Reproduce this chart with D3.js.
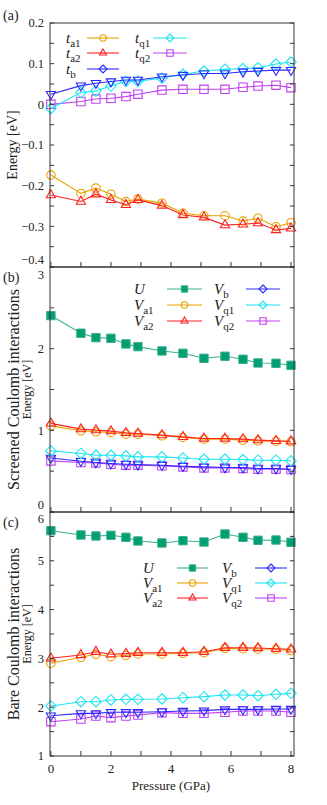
<!DOCTYPE html>
<html>
<head>
<meta charset="utf-8">
<script src="https://cdn.jsdelivr.net/npm/d3@7"></script>
<style>
body { margin: 0; background: #fff; }
</style>
</head>
<body>
<div id="chart"></div>
<script>
// pressure points (GPa), shared by all three panels
var pressure = [0, 1, 1.5, 2, 2.5, 2.9, 3.7, 4.4, 5.1, 5.8, 6.4, 6.9, 7.5, 8.0];

// (a) hoppings [eV]
var t_a1 = [-0.174, -0.219, -0.206, -0.221, -0.239, -0.233, -0.243, -0.268, -0.274, -0.274, -0.287, -0.280, -0.301, -0.291];
var t_a2 = [-0.223, -0.239, -0.221, -0.235, -0.247, -0.235, -0.249, -0.272, -0.278, -0.297, -0.295, -0.292, -0.309, -0.305];
var t_b  = [0.025, 0.046, 0.052, 0.056, 0.060, 0.060, 0.068, 0.072, 0.076, 0.076, 0.080, 0.082, 0.084, 0.084];
var t_q1 = [-0.010, 0.029, 0.033, 0.045, 0.056, 0.057, 0.064, 0.074, 0.082, 0.086, 0.088, 0.090, 0.099, 0.104];
var t_q2 = [0.000, 0.007, 0.013, 0.015, 0.019, 0.025, 0.035, 0.037, 0.037, 0.037, 0.042, 0.045, 0.047, 0.041];

// (b) screened interactions [eV]
var sU    = [2.405, 2.189, 2.135, 2.127, 2.058, 2.025, 1.972, 1.943, 1.882, 1.907, 1.870, 1.825, 1.821, 1.796];
var sV_a1 = [1.055, 0.994, 0.982, 0.974, 0.953, 0.953, 0.933, 0.913, 0.892, 0.892, 0.880, 0.871, 0.867, 0.859];
var sV_a2 = [1.085, 1.015, 1.003, 0.990, 0.969, 0.962, 0.941, 0.920, 0.900, 0.900, 0.892, 0.880, 0.871, 0.867];
var sV_b  = [0.662, 0.622, 0.606, 0.594, 0.585, 0.581, 0.573, 0.561, 0.552, 0.544, 0.544, 0.533, 0.533, 0.524];
var sV_q1 = [0.748, 0.717, 0.695, 0.695, 0.687, 0.675, 0.675, 0.662, 0.646, 0.646, 0.642, 0.634, 0.634, 0.626];
var sV_q2 = [0.626, 0.606, 0.601, 0.585, 0.573, 0.573, 0.565, 0.552, 0.540, 0.540, 0.533, 0.524, 0.524, 0.520];

// (c) bare interactions [eV]
var bU    = [5.617, 5.529, 5.508, 5.522, 5.481, 5.406, 5.365, 5.412, 5.385, 5.549, 5.481, 5.420, 5.426, 5.379];
var bV_a1 = [2.900, 3.023, 3.084, 3.035, 3.063, 3.090, 3.090, 3.104, 3.117, 3.206, 3.199, 3.193, 3.186, 3.160];
var bV_a2 = [3.002, 3.070, 3.137, 3.084, 3.097, 3.117, 3.117, 3.117, 3.137, 3.219, 3.219, 3.213, 3.199, 3.186];
var bV_b  = [1.826, 1.874, 1.874, 1.895, 1.895, 1.895, 1.908, 1.922, 1.929, 1.956, 1.956, 1.956, 1.963, 1.963];
var bV_q1 = [2.025, 2.113, 2.113, 2.148, 2.162, 2.162, 2.168, 2.195, 2.216, 2.250, 2.250, 2.236, 2.264, 2.284];
var bV_q2 = [1.703, 1.758, 1.820, 1.786, 1.820, 1.840, 1.888, 1.874, 1.874, 1.895, 1.922, 1.922, 1.922, 1.895];

var xTicks = [0, 1, 2, 3, 4, 5, 6, 7, 8];
var xLabels = [0, 2, 4, 6, 8];

var colors = {
    a1: "#e8a000", a2: "#ff2020", b: "#2a2aff",
    q1: "#1ae6f0", q2: "#c040f0", U: "#009e73", Uline: "#3cb08c"
};

var width = 327, height = 805;
var left = 50, right = 294;
var serif = "'Liberation Serif', 'DejaVu Serif', serif";

var svg = d3.select("#chart").append("svg")
    .attr("width", width)
    .attr("height", height)
    .attr("font-family", serif)
    .style("font-family", serif);

var x = d3.scaleLinear().domain([-0.03, 8.1]).range([left, right]);

// marker shapes, centered on 0,0
var shape = function(kind, s){
    if (kind == "circle") return d3.symbol(d3.symbolCircle, Math.PI * s * s)();
    if (kind == "square" || kind == "fsquare") return "M" + (-s) + "," + (-s) + "h" + 2*s + "v" + 2*s + "h" + (-2*s) + "Z";
    if (kind == "diamond") { var r = s * 1.25; return "M0," + (-r) + "L" + r + ",0L0," + r + "L" + (-r) + ",0Z"; }
    var h = s * 1.9, w = s * 1.1;
    if (kind == "tri") return "M0," + (-h*2/3) + "L" + w + "," + (h/3) + "L" + (-w) + "," + (h/3) + "Z";
    if (kind == "dtri") return "M0," + (h*2/3) + "L" + w + "," + (-h/3) + "L" + (-w) + "," + (-h/3) + "Z";
}

var drawMarker = function(g, kind, color, size){
    var filled = kind == "fsquare";
    return g.append("path")
        .attr("d", shape(kind, size))
        .attr("fill", filled ? colors.U : "none")
        .attr("stroke", filled ? colors.Uline : color)
        .attr("stroke-width", filled ? 1 : 1.1);
}

var panel = function(opt){
    var y = d3.scaleLinear().domain(opt.domain).range([opt.bottom, opt.top]);
    var g = svg.append("g");

    // series
    opt.series.forEach(function(s){
        var pts = pressure.map((p, i) => [x(p), y(s.values[i])]);
        g.append("path")
            .attr("d", d3.line()(pts))
            .attr("fill", "none")
            .attr("stroke", s.line || s.color)
            .attr("stroke-width", 1.1);
        pts.forEach(function(p){
            drawMarker(g, s.marker, s.color, 4.2)
                .attr("transform", "translate(" + p[0] + "," + p[1] + ")");
        });
    });

    // frame
    g.append("rect")
        .attr("x", left).attr("y", opt.top)
        .attr("width", right - left).attr("height", opt.bottom - opt.top)
        .attr("fill", "none").attr("stroke", "#333").attr("stroke-width", 1);

    // y ticks, inward on both sides
    var yt = d3.range(opt.domain[0], opt.domain[1] + opt.minor / 2, opt.minor);
    yt.forEach(function(v, i){
        var yy = y(v);
        var major = Math.abs(Math.round(v / opt.major) * opt.major - v) < 1e-6;
        var len = 4;
        g.append("line").attr("x1", left).attr("x2", left + len)
            .attr("y1", yy).attr("y2", yy).attr("stroke", "#333");
        g.append("line").attr("x1", right).attr("x2", right - len)
            .attr("y1", yy).attr("y2", yy).attr("stroke", "#333");
        if (major) {
            // labels on the shared edges are nudged apart
            var shift = 0;
            if (i == 0 && opt.lowShift) shift = opt.lowShift;
            if (i == yt.length - 1 && opt.topShift) shift = opt.topShift;
            g.append("text")
                .attr("x", left - 6).attr("y", yy + shift)
                .attr("dy", "0.35em")
                .attr("text-anchor", "end")
                .attr("font-size", 12.5)
                .attr("fill", "#222")
                .text(opt.fmt(v));
        }
    });

    // x ticks at bottom
    xTicks.forEach(function(v){
        g.append("line").attr("x1", x(v)).attr("x2", x(v))
            .attr("y1", opt.bottom).attr("y2", opt.bottom - 5)
            .attr("stroke", "#333");
    });

    // panel tag
    g.append("text").attr("x", 3).attr("y", opt.tagY)
        .attr("font-size", 14).attr("fill", "#222").text(opt.tag);

    // y titles
    var cy = (opt.top + opt.bottom) / 2;
    opt.titles.forEach(function(t){
        g.append("text")
            .attr("transform", "translate(" + t.x + "," + cy + ") rotate(-90)")
            .attr("text-anchor", "middle")
            .attr("font-size", t.size)
            .attr("fill", "#222")
            .text(t.text);
    });

    // legend
    opt.legend.forEach(function(l){
        var row = g.append("g").attr("transform", "translate(0," + l.y + ")");
        var lab = row.append("text").attr("x", l.tx).attr("y", 0).attr("dy", "0.3em")
            .attr("font-size", 15).attr("fill", "#222");
        lab.append("tspan").attr("font-style", "italic").text(l.sym);
        if (l.sub) lab.append("tspan").attr("font-size", 11).attr("dy", 4).text(l.sub);
        row.append("line").attr("x1", l.x1).attr("x2", l.x2)
            .attr("stroke", l.line || l.color).attr("stroke-width", 1.1);
        drawMarker(row, l.marker, l.color, 3.2)
            .attr("transform", "translate(" + (l.x1 + l.x2) / 2 + ",0)");
    });

    return y;
}

var f1 = d3.format(".1f");

panel({
    top: 23, bottom: 267, domain: [-0.4, 0.2], major: 0.1, minor: 0.05,
    fmt: v => Math.abs(v) < 1e-9 ? "0" : f1(v),
    tag: "(a)", tagY: 20, lowShift: -7,
    titles: [{ x: 17, size: 14, text: "Energy [eV]" }],
    series: [
        { values: t_a1, color: colors.a1, marker: "circle" },
        { values: t_a2, color: colors.a2, marker: "tri" },
        { values: t_q2, color: colors.q2, marker: "square" },
        { values: t_q1, color: colors.q1, marker: "diamond" },
        { values: t_b,  color: colors.b,  marker: "dtri" }
    ],
    legend: [
        { y: 38, tx: 66, sym: "t", sub: "a1", x1: 87, x2: 119, color: colors.a1, marker: "circle" },
        { y: 53, tx: 66, sym: "t", sub: "a2", x1: 87, x2: 119, color: colors.a2, marker: "tri" },
        { y: 69, tx: 66, sym: "t", sub: "b",  x1: 87, x2: 119, color: colors.b,  marker: "diamond" },
        { y: 38, tx: 135, sym: "t", sub: "q1", x1: 153, x2: 187, color: colors.q1, marker: "diamond" },
        { y: 53, tx: 135, sym: "t", sub: "q2", x1: 153, x2: 187, color: colors.q2, marker: "square" }
    ]
});

var legendV = function(ys, c1, c2){
    return [
        { y: ys[0], tx: c1.tx, sym: "U", sub: "", x1: c1.x1, x2: c1.x2, color: colors.U, line: colors.Uline, marker: "fsquare" },
        { y: ys[1], tx: c1.tx, sym: "V", sub: "a1", x1: c1.x1, x2: c1.x2, color: colors.a1, marker: "circle" },
        { y: ys[2], tx: c1.tx, sym: "V", sub: "a2", x1: c1.x1, x2: c1.x2, color: colors.a2, marker: "tri" },
        { y: ys[0], tx: c2.tx, sym: "V", sub: "b",  x1: c2.x1, x2: c2.x2, color: colors.b,  marker: "diamond" },
        { y: ys[1], tx: c2.tx, sym: "V", sub: "q1", x1: c2.x1, x2: c2.x2, color: colors.q1, marker: "diamond" },
        { y: ys[2], tx: c2.tx, sym: "V", sub: "q2", x1: c2.x1, x2: c2.x2, color: colors.q2, marker: "square" }
    ];
}

panel({
    top: 267, bottom: 512, domain: [0, 3], major: 1, minor: 0.5,
    fmt: d3.format("d"),
    tag: "(b)", tagY: 282, lowShift: -7, topShift: 8,
    titles: [{ x: 19, size: 16, text: "Screened Coulomb interactions" },
             { x: 31, size: 12, text: "Energy [eV]" }],
    series: [
        { values: sV_q2, color: colors.q2, marker: "square" },
        { values: sV_b,  color: colors.b,  marker: "dtri" },
        { values: sV_q1, color: colors.q1, marker: "diamond" },
        { values: sV_a1, color: colors.a1, marker: "circle" },
        { values: sV_a2, color: colors.a2, marker: "tri" },
        { values: sU, color: colors.U, line: colors.Uline, marker: "fsquare" }
    ],
    legend: legendV([289, 305, 321], { tx: 134, x1: 167, x2: 202 }, { tx: 214, x1: 246, x2: 280 })
});

panel({
    top: 512, bottom: 756, domain: [1, 6], major: 1, minor: 0.5,
    fmt: d3.format("d"),
    tag: "(c)", tagY: 527, topShift: 7,
    titles: [{ x: 19, size: 16, text: "Bare Coulomb interactions" },
             { x: 31, size: 12, text: "Energy [eV]" }],
    series: [
        { values: bV_q2, color: colors.q2, marker: "square" },
        { values: bV_b,  color: colors.b,  marker: "dtri" },
        { values: bV_q1, color: colors.q1, marker: "diamond" },
        { values: bV_a1, color: colors.a1, marker: "circle" },
        { values: bV_a2, color: colors.a2, marker: "tri" },
        { values: bU, color: colors.U, line: colors.Uline, marker: "fsquare" }
    ],
    legend: legendV([568, 583, 598], { tx: 143, x1: 177, x2: 208 }, { tx: 222, x1: 255, x2: 287 })
});

// x tick labels and title under the last panel
svg.append("g").selectAll("text")
    .data(xLabels)
    .enter().append("text")
    .attr("x", d => x(d))
    .attr("y", 773)
    .attr("text-anchor", "middle")
    .attr("font-size", 13)
    .attr("fill", "#222")
    .text(d => d);

svg.append("text")
    .attr("x", x(4))
    .attr("y", 790)
    .attr("text-anchor", "middle")
    .attr("font-size", 13)
    .attr("fill", "#222")
    .text("Pressure (GPa)");
</script>
</body>
</html>
